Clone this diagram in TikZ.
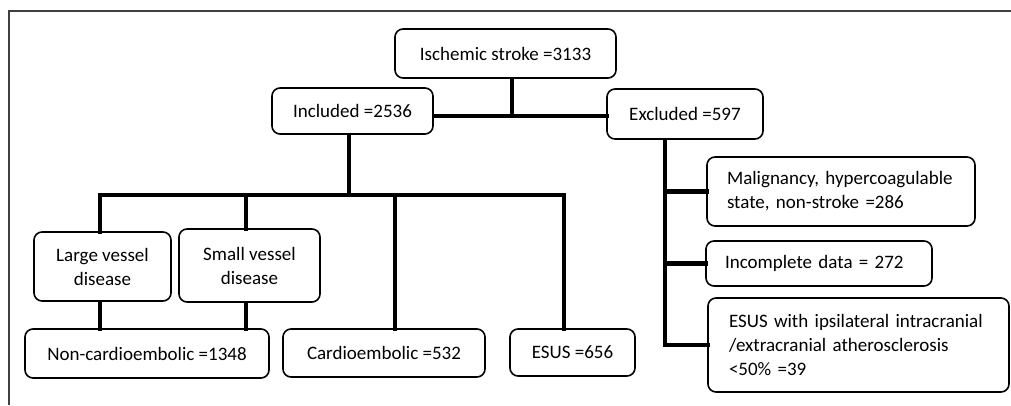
\documentclass[tikz,border=0pt]{standalone}
\usepackage{fontspec}
\setmainfont{Carlito}
\tikzset{
  box/.style={draw, rounded corners=8pt, line width=1.6pt, align=center, inner sep=0pt, font=\fontsize{19}{24}\selectfont},
  lbox/.style={box, align=left, text width=#1},
  link/.style={line width=4.6pt, line cap=rect}
}
\begin{document}
\begin{tikzpicture}[x=1pt, y=-1pt]
  \useasboundingbox (0,0) rectangle (1011,405);
  \draw[line width=1.4pt, black!75] (9,405) -- (9,11) -- (1011,11);

  \node[box, minimum width=221pt, minimum height=49pt] (stroke) at (505.5,53.5) {Ischemic stroke =3133};
  \node[box, minimum width=161pt, minimum height=46pt] (incl) at (352.5,111) {Included =2536};
  \node[box, minimum width=156pt, minimum height=50pt] (excl) at (685,114) {Excluded =597};

  \node[box, minimum width=137pt, minimum height=69pt] (large) at (102.5,266.5) {Large vessel\\disease};
  \node[box, minimum width=141pt, minimum height=73pt] (small) at (249.5,265.5) {Small vessel\\disease};
  \node[box, minimum width=244pt, minimum height=49pt] (noncardio) at (147,353.5) {Non-cardioembolic =1348};
  \node[box, minimum width=202pt, minimum height=48pt] (cardio) at (384,353) {Cardioembolic =532};
  \node[box, minimum width=125pt, minimum height=47pt] (esus) at (572.5,352.5) {ESUS =656};

  \node[lbox=228pt, minimum height=69pt, inner xsep=20pt] (malig) at (841,191.5) {Malignancy, hypercoagulable\\state, non-stroke =286};
  \node[lbox=188pt, minimum height=45pt, inner xsep=19pt] (incomp) at (819,263.5) {Incomplete data = 272};
  \node[lbox=259pt, minimum height=94pt, inner xsep=21pt] (esusath) at (858.5,345) {ESUS with ipsilateral intracranial\\/extracranial atherosclerosis\\<50\% =39};

  % joints
  \coordinate (j1) at (512,116);
  \coordinate (b1) at (100,195);
  \coordinate (b2) at (246,195);
  \coordinate (b3) at (395,195);
  \coordinate (b4) at (564,195);
  \coordinate (t) at (665,0);

  \draw[link] (stroke.south -| j1) -- (j1);
  \draw[link] (incl.east |- j1) -- (excl.west |- j1);
  \draw[link] (incl.south -| 349,0) -- (349,195);
  \draw[link] (b1) -- (b4);
  \draw[link] (b1) -- (b1 |- large.north);
  \draw[link] (b2) -- (b2 |- small.north);
  \draw[link] (b3) -- (b3 |- cardio.north);
  \draw[link] (b4) -- (b4 |- esus.north);
  \draw[link] (large.south -| b1) -- (noncardio.north -| b1);
  \draw[link] (small.south -| b2) -- (noncardio.north -| b2);

  \draw[link] (excl.south -| t) -- (t |- esusath.west) -- (esusath.west);
  \draw[link] (t |- malig.west) -- (malig.west);
  \draw[link] (t |- incomp.west) -- (incomp.west);
\end{tikzpicture}
\end{document}
